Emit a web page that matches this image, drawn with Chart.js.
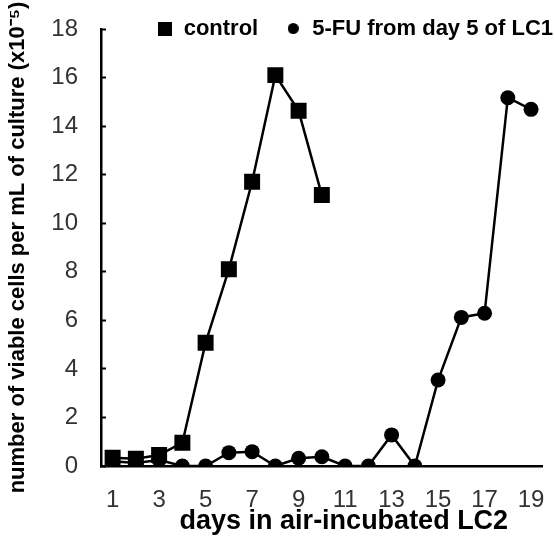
<!DOCTYPE html>
<html>
<head>
<meta charset="utf-8">
<script src="https://cdn.jsdelivr.net/npm/chart.js@4.4.1/dist/chart.umd.min.js"></script>
<style>
  html, body { margin: 0; padding: 0; background: #fff; }
  #wrap { width: 554px; height: 538px; }
</style>
</head>
<body>
<div id="wrap"><canvas id="c" width="554" height="538"></canvas></div>
<script>
// ---- data ----
const days = [1,2,3,4,5,6,7,8,9,10,11,12,13,14,15,16,17,18,19];
const controlValues = [0.34,0.3,0.45,0.96,5.08,8.1,11.71,16.1,14.63,11.16,null,null,null,null,null,null,null,null,null];
const fuValues = [0.2,0.12,0.25,0,0,0.55,0.59,0,0.32,0.38,0,0,1.28,0,3.54,6.12,6.29,15.17,14.69];
const seriesNames = ['control', '5-FU from day 5 of LC1'];
const yTicks = [0,2,4,6,8,10,12,14,16,18];
const xTitle = 'days in air-incubated LC2';
const yTitle = 'number of viable cells per mL of culture (x10\u207B\u2075)';

const FONT = '"Liberation Sans", Arial, Helvetica, sans-serif';

function markerCanvas(kind, size) {
  const c = document.createElement('canvas');
  c.width = size; c.height = size;
  const g = c.getContext('2d');
  g.fillStyle = '#000';
  if (kind === 'rect') { g.fillRect(0, 0, size, size); }
  else { g.beginPath(); g.arc(size/2, size/2, size/2, 0, Math.PI*2); g.fill(); }
  return c;
}
const legendMarks = [markerCanvas('rect', 14), markerCanvas('circle', 11)];

// legend floats over the top of the plot (takes no layout space)
const LEGEND_TOP = -9.5;
const LEGEND_DX = 27;
const XTITLE_DX = 22;
const layoutTweaks = {
  id: 'layoutTweaks',
  afterInit(chart) {
    const lg = chart.legend;
    if (!lg || lg._floatPatched) return;
    const origFit = lg.fit;
    lg.fit = function () {
      origFit.call(this);
      this._floatHeight = this.height;
      this.height = 0;
    };
    lg._floatPatched = true;
  },
  afterLayout(chart) {
    const lg = chart.legend;
    if (lg) {
      lg.top = LEGEND_TOP;
      lg.bottom = LEGEND_TOP + (lg._floatHeight || 0);
      lg.height = lg._floatHeight || 0;
      lg.left += LEGEND_DX; lg.right += LEGEND_DX;
    }
    const sx = chart.scales.x;
    if (sx && !sx._titlePatched) {
      const orig = sx.drawTitle;
      sx.drawTitle = function () {
        this.ctx.save();
        this.ctx.translate(XTITLE_DX, 0);
        orig.call(this);
        this.ctx.restore();
      };
      sx._titlePatched = true;
    }
  }
};

function zeroPadding(s) { s.paddingLeft = 0; s.paddingRight = 0; s.paddingTop = 0; s.paddingBottom = 0; }

new Chart(document.getElementById('c'), {
  type: 'line',
  data: {
    labels: days,
    datasets: [
      {
        label: seriesNames[0],
        data: controlValues,
        borderColor: '#000',
        backgroundColor: '#000',
        borderWidth: 2.5,
        pointStyle: 'rect',
        pointRadius: 11.3,
        pointBackgroundColor: '#000',
        pointBorderWidth: 0,
        tension: 0,
        spanGaps: false
      },
      {
        label: seriesNames[1],
        data: fuValues,
        borderColor: '#000',
        backgroundColor: '#000',
        borderWidth: 2.5,
        pointStyle: 'circle',
        pointRadius: 7.5,
        pointBackgroundColor: '#000',
        pointBorderWidth: 0,
        tension: 0
      }
    ]
  },
  options: {
    responsive: false,
    animation: false,
    devicePixelRatio: 1,
    layout: { padding: { top: 29, right: 1, bottom: 0, left: 0 } },
    plugins: {
      tooltip: { enabled: false },
      legend: {
        display: true,
        position: 'top',
        align: 'end',
        labels: {
          usePointStyle: true,
          boxWidth: 16,
          boxHeight: 16,
          padding: 27,
          color: '#000',
          font: { family: FONT, size: 22, weight: 'bold' },
          generateLabels(chart) {
            const items = Chart.defaults.plugins.legend.labels.generateLabels(chart);
            items.forEach((it, i) => { it.pointStyle = legendMarks[i]; });
            return items;
          }
        }
      }
    },
    scales: {
      x: {
        type: 'category',
        offset: true,
        grid: { display: false, drawTicks: false },
        border: { display: true, color: '#000', width: 2.5 },
        ticks: {
          autoSkip: false,
          maxRotation: 0,
          padding: 20,
          color: '#333',
          font: { family: FONT, size: 24 },
          callback(v, i) { const d = days[i]; return d % 2 === 1 ? String(d) : ''; }
        },
        title: {
          display: true,
          text: xTitle,
          color: '#000',
          font: { family: FONT, size: 27, weight: 'bold' },
          padding: { top: 0, bottom: 0 }
        },
        afterFit(s) { s.height = 72; zeroPadding(s); }
      },
      y: {
        min: 0,
        max: 18,
        grid: { display: true, drawOnChartArea: false, drawTicks: true, tickLength: -5, tickColor: '#000', tickWidth: 2 },
        border: { display: true, color: '#000', width: 2.5 },
        afterBuildTicks(s) { s.ticks = yTicks.map(v => ({ value: v })); },
        ticks: {
          padding: 28,
          color: '#333',
          font: { family: FONT, size: 24 }
        },
        title: {
          display: true,
          text: yTitle,
          color: '#000',
          font: { family: FONT, size: 22, weight: 'bold' },
          padding: { top: 5, bottom: 0 }
        },
        afterFit(s) { s.width = 101; zeroPadding(s); }
      }
    }
  },
  plugins: [layoutTweaks]
});
</script>
</body>
</html>
